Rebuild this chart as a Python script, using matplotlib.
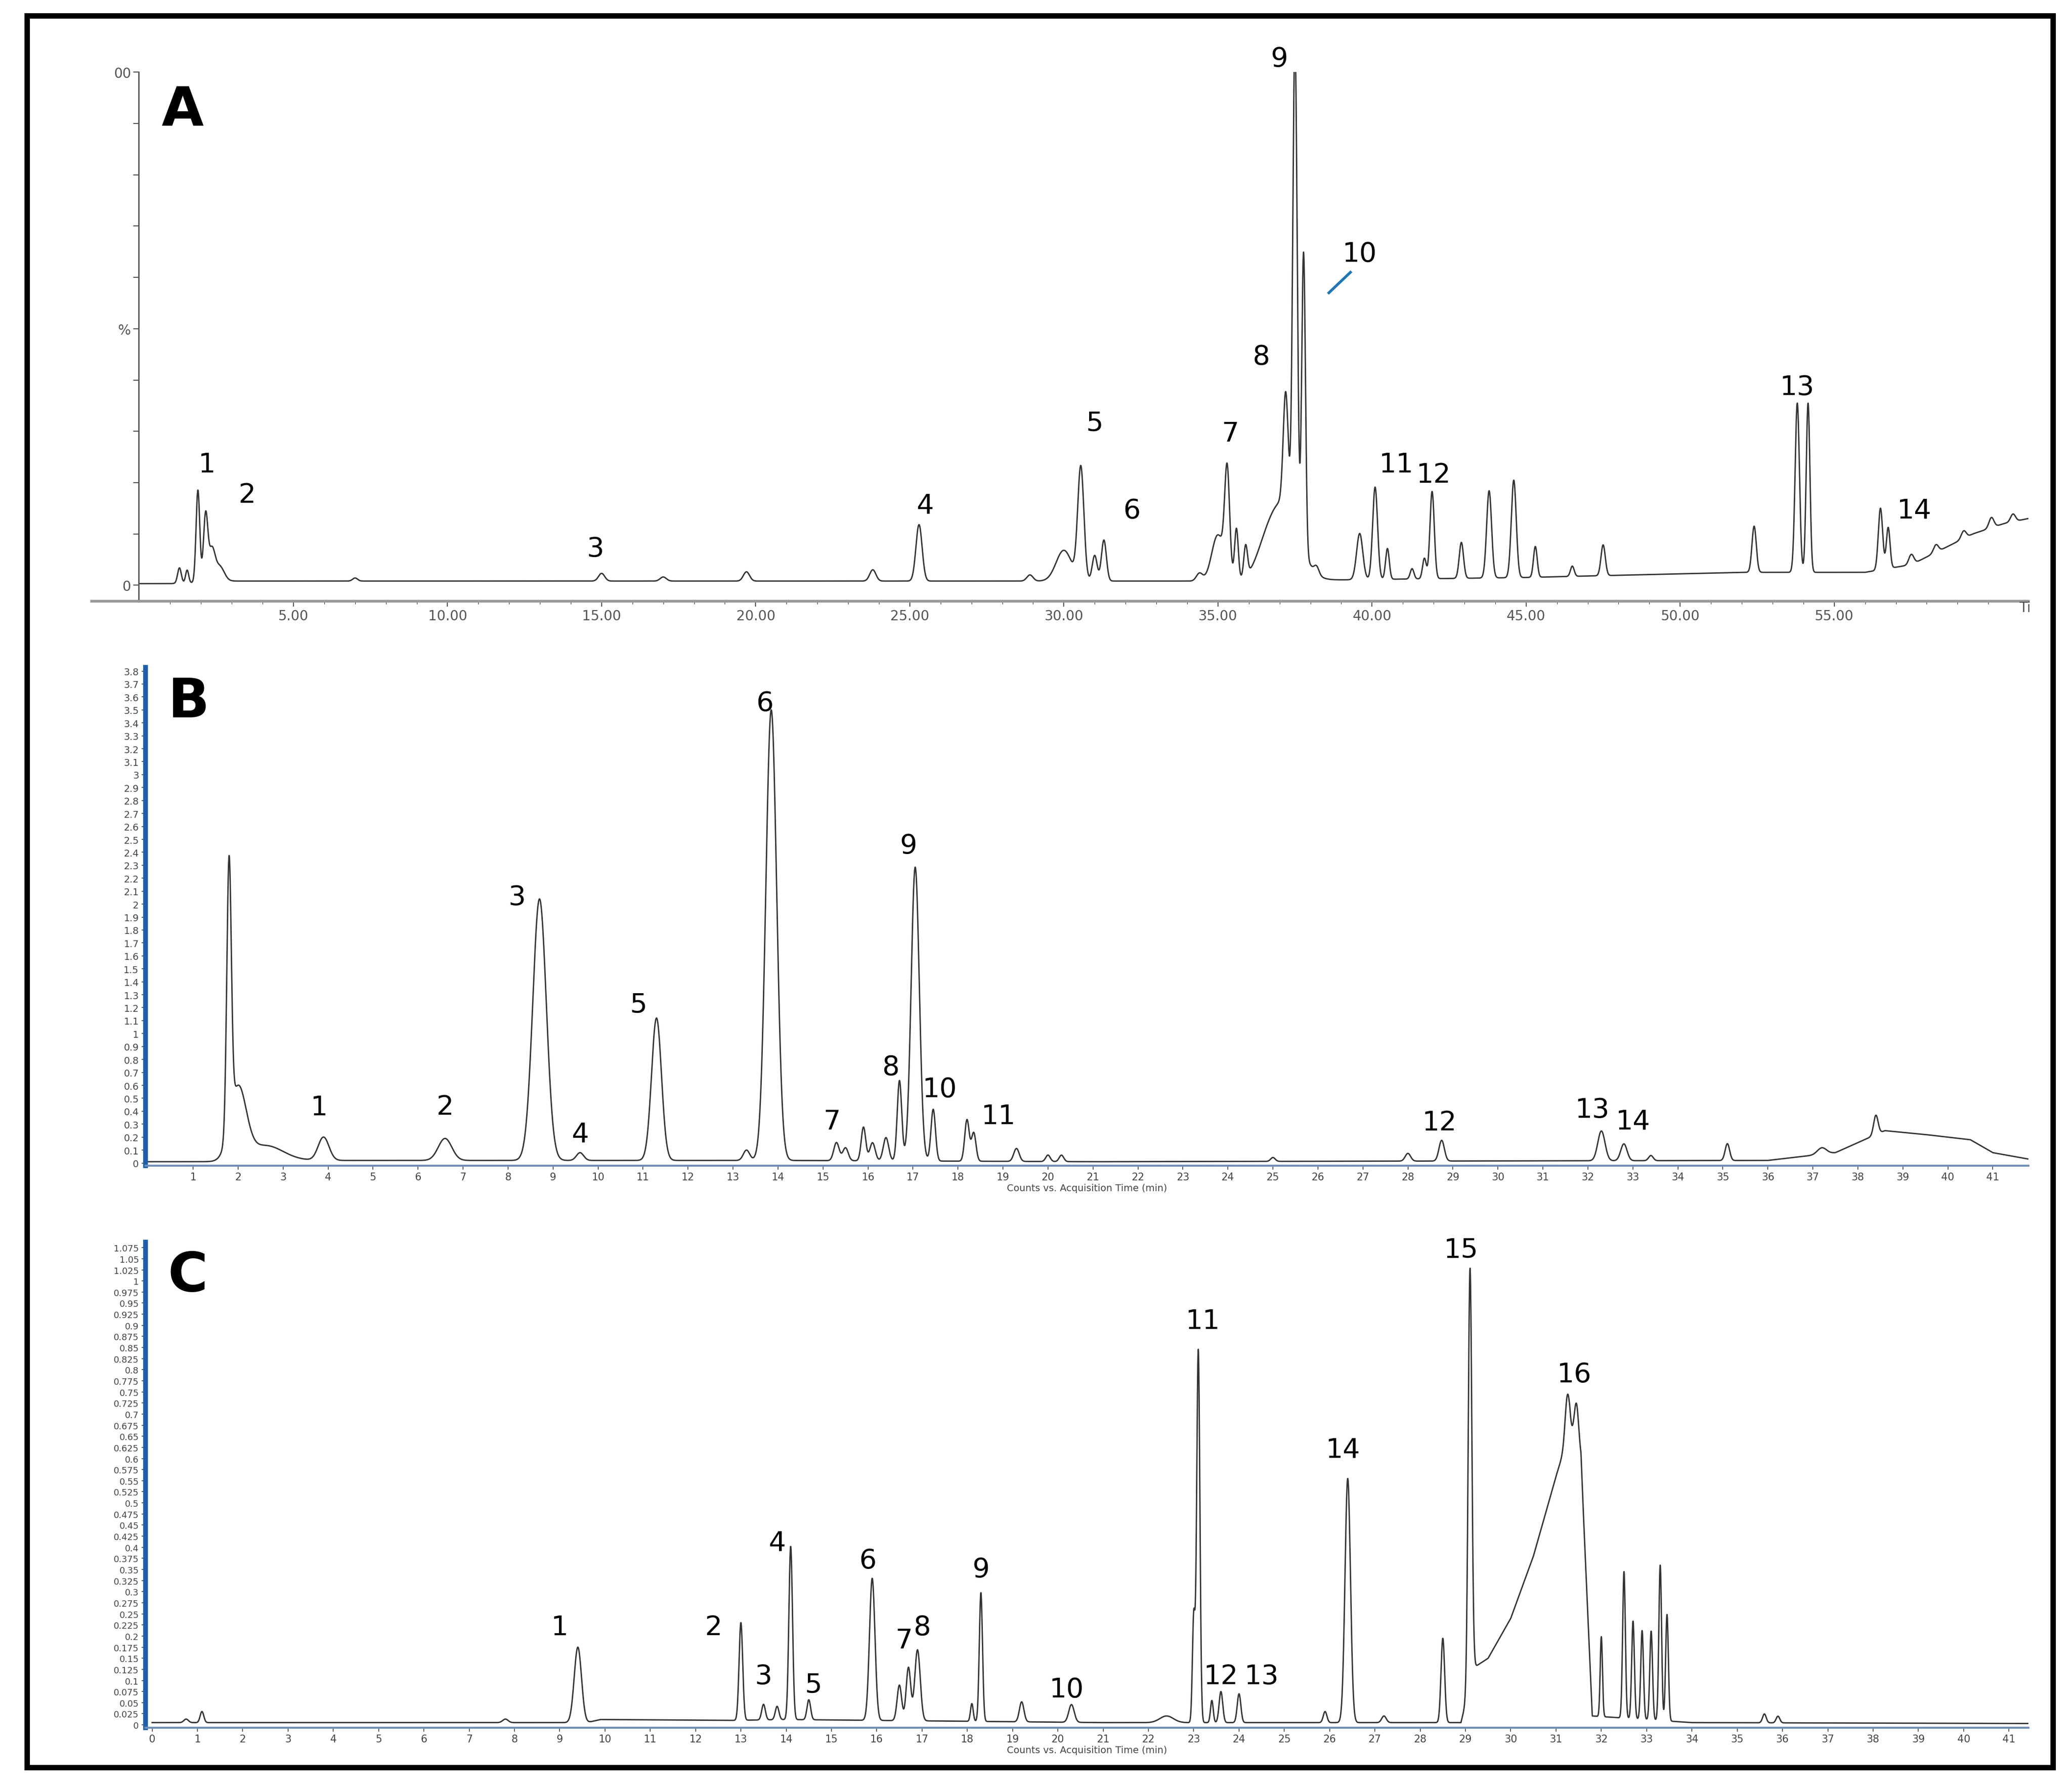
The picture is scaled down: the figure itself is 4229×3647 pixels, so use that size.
import numpy as np
import matplotlib.pyplot as plt
from matplotlib.patches import Rectangle

# ---- panel A (% vs time, min) ----
a_pos = [1.3, 1.55, 1.9, 2.15, 2.35, 2.6, 7.0, 15.0, 17.0, 19.7, 23.8, 25.3, 28.9,
         30.0, 30.55, 31.0, 31.3, 34.4, 35.0, 35.3, 35.6, 35.9, 36.5, 37.1, 37.2, 37.5, 37.78,
         38.2, 39.6, 40.1, 40.5, 41.3, 41.7, 41.95, 42.9, 43.8, 44.6, 45.3, 46.5, 47.5,
         52.4, 53.8, 54.15, 56.5, 56.75, 57.5, 58.3, 59.2, 60.1, 60.8]
a_h = [3, 2.5, 18, 13, 6, 3, 0.6, 1.5, 0.8, 1.8, 2.2, 11, 1.2,
       6, 22, 5, 8, 1.5, 9, 20, 10, 6, 2, 15, 22, 95, 58,
       1.5, 9, 18, 6, 2, 4, 17, 7, 17, 19, 6, 2, 6,
       9, 33, 33, 12, 8, 2, 1.5, 1.5, 2, 1.5]
a_w = [0.06, 0.05, 0.06, 0.07, 0.1, 0.15, 0.08, 0.1, 0.1, 0.1, 0.1, 0.1, 0.1,
       0.25, 0.1, 0.08, 0.08, 0.1, 0.2, 0.08, 0.06, 0.06, 0.3, 0.5, 0.08, 0.07, 0.06,
       0.08, 0.1, 0.08, 0.06, 0.06, 0.06, 0.07, 0.07, 0.08, 0.08, 0.06, 0.06, 0.07,
       0.07, 0.07, 0.06, 0.07, 0.06, 0.08, 0.08, 0.08, 0.08, 0.08]
a_base_t = [0, 1.0, 3.0, 36.0, 45.0, 52.0, 56.0, 57.5, 58.5, 59.5, 60.5, 61.3]
a_base_v = [0.3, 0.3, 0.8, 0.8, 1.5, 2.5, 2.5, 4, 7, 10, 12, 13]
a_lab = ['1', '2', '3', '4', '5', '6', '7', '8', '9', '10', '11', '12', '13', '14']
a_lab_x = [2.2, 3.5, 14.8, 25.5, 31.0, 32.2, 35.4, 36.4, 37.0, 39.6, 40.8, 42.0, 53.8, 57.6]
a_lab_y = [21, 15, 4.5, 13, 29, 12, 27, 42, 100, 62, 21, 19, 36, 12]

# ---- panel B ----
b_pos = [1.8, 2.0, 2.6, 3.9, 6.6, 8.7, 9.6, 11.3, 13.3, 13.85, 15.3, 15.5, 15.9, 16.1,
         16.4, 16.7, 17.05, 17.45, 18.2, 18.35, 19.3, 20.0, 20.3, 25.0, 28.0, 28.75,
         32.3, 32.8, 33.4, 35.1, 37.2, 38.4]
b_h = [2.05, 0.55, 0.12, 0.18, 0.17, 2.02, 0.06, 1.1, 0.08, 3.48, 0.14, 0.1, 0.26, 0.14,
       0.18, 0.62, 2.27, 0.4, 0.32, 0.22, 0.1, 0.05, 0.05, 0.03, 0.06, 0.16,
       0.23, 0.13, 0.04, 0.13, 0.05, 0.15]
b_w = [0.05, 0.18, 0.4, 0.12, 0.15, 0.15, 0.08, 0.11, 0.07, 0.12, 0.06, 0.06, 0.05, 0.06,
       0.06, 0.05, 0.09, 0.05, 0.05, 0.05, 0.06, 0.05, 0.05, 0.05, 0.06, 0.06,
       0.08, 0.07, 0.05, 0.05, 0.1, 0.05]
b_base_t = [0, 1.7, 3.5, 14, 21, 36.0, 37.5, 38.6, 39.5, 40.5, 41.0, 41.8]
b_base_v = [0.01, 0.01, 0.02, 0.02, 0.01, 0.02, 0.08, 0.25, 0.22, 0.18, 0.08, 0.03]
b_lab = ['1', '2', '3', '4', '5', '6', '7', '8', '9', '10', '11', '12', '13', '14']
b_lab_x = [3.8, 6.6, 8.2, 9.6, 10.9, 13.7, 15.2, 16.5, 16.9, 17.6, 18.9, 28.7, 32.1, 33.0]
b_lab_y = [0.33, 0.33, 1.95, 0.12, 1.12, 3.45, 0.22, 0.64, 2.35, 0.47, 0.26, 0.21, 0.31, 0.22]

# ---- panel C ----
c_pos = [0.75, 1.1, 7.8, 9.4, 13.0, 13.5, 13.8, 14.1, 14.5, 15.9, 16.5, 16.7, 16.9,
         18.1, 18.3, 19.2, 20.3, 22.4, 23.0, 23.1, 23.4, 23.6, 24.0, 25.9, 26.4, 27.2,
         28.5, 29.1, 31.25, 31.45, 32.0, 32.5, 32.7, 32.9, 33.1, 33.3, 33.45, 35.6, 35.9]
c_h = [0.008, 0.025, 0.008, 0.17, 0.22, 0.035, 0.03, 0.39, 0.045, 0.32, 0.08, 0.12, 0.16,
       0.04, 0.29, 0.045, 0.04, 0.015, 0.24, 0.84, 0.05, 0.07, 0.065, 0.025, 0.55, 0.015,
       0.19, 0.94, 0.1, 0.1, 0.18, 0.33, 0.22, 0.2, 0.2, 0.35, 0.24, 0.02, 0.015]
c_w = [0.05, 0.04, 0.06, 0.08, 0.04, 0.04, 0.04, 0.04, 0.04, 0.06, 0.05, 0.05, 0.06,
       0.03, 0.035, 0.05, 0.06, 0.15, 0.03, 0.035, 0.03, 0.04, 0.04, 0.04, 0.06, 0.05,
       0.04, 0.04, 0.05, 0.05, 0.025, 0.03, 0.03, 0.03, 0.03, 0.03, 0.03, 0.04, 0.04]
c_base_t = [0, 9.6, 9.9, 12.8, 14.0, 21.0, 28.9, 29.2, 29.5, 30.0, 30.5, 31.0, 31.3, 31.55, 31.8, 34.0, 41.5]
c_base_v = [0.005, 0.005, 0.012, 0.01, 0.012, 0.005, 0.005, 0.13, 0.15, 0.24, 0.38, 0.56, 0.66, 0.6, 0.02, 0.005, 0.003]
c_lab = ['1', '2', '3', '4', '5', '6', '7', '8', '9', '10', '11', '12', '13', '14', '15', '16']
c_lab_x = [9.0, 12.4, 13.5, 13.8, 14.6, 15.8, 16.6, 17.0, 18.3, 20.2, 23.2, 23.6, 24.5, 26.3, 28.9, 31.4]
c_lab_y = [0.19, 0.19, 0.08, 0.38, 0.06, 0.34, 0.16, 0.19, 0.32, 0.05, 0.88, 0.08, 0.08, 0.59, 1.04, 0.76]


def trace(t, pos, h, w, bt, bv):
    y = np.interp(t, bt, bv)
    for p, hh, ww in zip(pos, h, w):
        y = y + hh * np.exp(-0.5 * ((t - p) / ww) ** 2)
    return y


W, H = 4229, 3648
fig = plt.figure(figsize=(W / 100, H / 100), dpi=100)
fig.patches.append(Rectangle((55 / W, 40 / H), (4190 - 55) / W, (3615 - 40) / H,
                             transform=fig.transFigure, fill=False, lw=8, color='black'))


def fx(px):
    return px / 1568


def fy(py):
    return 1 - py / 1352


lab_font = dict(fontsize=40, family='DejaVu Sans')

# ---------------- A ----------------
axA = fig.add_axes([fx(105), fy(455), fx(1535) - fx(105), fy(55) - fy(455)])
t = np.linspace(0, 61.3, 12000)
axA.plot(t, trace(t, a_pos, a_h, a_w, a_base_t, a_base_v), color='#333333', lw=2)
axA.set_xlim(-0.02, 61.3)
axA.set_ylim(-3.1, 100)
axA.spines['top'].set_visible(False)
axA.spines['right'].set_visible(False)
axA.spines['bottom'].set_color('#999999')
axA.spines['bottom'].set_linewidth(4)
axA.spines['left'].set_color('#555555')
axA.spines['left'].set_linewidth(2)
axA.axhline(-3.1, xmin=-0.025, xmax=0, color='#999999', lw=4, clip_on=False)
axA.set_xticks(np.arange(5, 60, 5))
axA.set_xticklabels(['%.2f' % v for v in np.arange(5, 60, 5)], fontsize=20, color='#555555')
axA.set_xticks(np.arange(1, 61, 1), minor=True)
axA.set_yticks(np.arange(0, 101, 10))
axA.set_yticklabels(['0', '', '', '', '', '%', '', '', '', '', '00'], fontsize=20, color='#555555')
axA.tick_params(length=8, width=1.5, colors='#555555')
axA.tick_params(which='minor', length=4)
axA.text(61.0, -3, 'Ti', fontsize=20, color='#555555', va='top')
axA.text(0.012, 0.9, 'A', transform=axA.transAxes, fontsize=80, fontweight='bold')
for s, x, y in zip(a_lab, a_lab_x, a_lab_y):
    axA.text(x, y, s, ha='center', va='bottom', **lab_font)
axA.plot([38.6, 39.3], [57, 61], color='#1f77b4', lw=4)

# ---------------- B ----------------
axB = fig.add_axes([fx(110), fy(882), fx(1535) - fx(110), fy(505) - fy(882)])
t = np.linspace(0, 41.8, 12000)
axB.plot(t, trace(t, b_pos, b_h, b_w, b_base_t, b_base_v), color='#333333', lw=2)
axB.set_xlim(-0.06, 41.79)
axB.set_ylim(-0.02, 3.83)
axB.set_xticks(np.arange(1, 42))
axB.set_xticklabels([str(v) for v in range(1, 42)], fontsize=15, color='#444444')
b_ticks = np.round(np.arange(0, 3.81, 0.1), 1)
axB.set_yticks(b_ticks)
axB.set_yticklabels(['%g' % v for v in b_ticks], fontsize=14, color='#444444')
axB.set_xlabel('Counts vs. Acquisition Time (min)', fontsize=14, color='#444444', labelpad=2)
axB.text(0.012, 0.9, 'B', transform=axB.transAxes, fontsize=80, fontweight='bold')
for s, x, y in zip(b_lab, b_lab_x, b_lab_y):
    axB.text(x, y, s, ha='center', va='bottom', **lab_font)

# ---------------- C ----------------
axC = fig.add_axes([fx(110), fy(1307), fx(1535) - fx(110), fy(940) - fy(1307)])
t = np.linspace(0, 41.5, 12000)
axC.plot(t, trace(t, c_pos, c_h, c_w, c_base_t, c_base_v), color='#333333', lw=2)
axC.set_xlim(-0.15, 41.43)
axC.set_ylim(-0.006, 1.087)
axC.set_xticks(np.arange(0, 42))
axC.set_xticklabels([str(v) for v in range(0, 42)], fontsize=15, color='#444444')
c_ticks = np.round(np.arange(0, 1.0751, 0.025), 3)
axC.set_yticks(c_ticks)
axC.set_yticklabels(['%g' % v for v in c_ticks], fontsize=13, color='#444444')
axC.set_xlabel('Counts vs. Acquisition Time (min)', fontsize=14, color='#444444', labelpad=2)
axC.text(0.012, 0.9, 'C', transform=axC.transAxes, fontsize=80, fontweight='bold')
for s, x, y in zip(c_lab, c_lab_x, c_lab_y):
    axC.text(x, y, s, ha='center', va='bottom', **lab_font)

for ax in (axB, axC):
    ax.spines['top'].set_visible(False)
    ax.spines['right'].set_visible(False)
    ax.spines['left'].set_color('#1f5fa8')
    ax.spines['left'].set_linewidth(7)
    ax.spines['bottom'].set_color('#6f8fb8')
    ax.spines['bottom'].set_linewidth(3)
    ax.tick_params(length=6, width=1.2, colors='#444444')

fig.savefig('out.png', dpi=100)
